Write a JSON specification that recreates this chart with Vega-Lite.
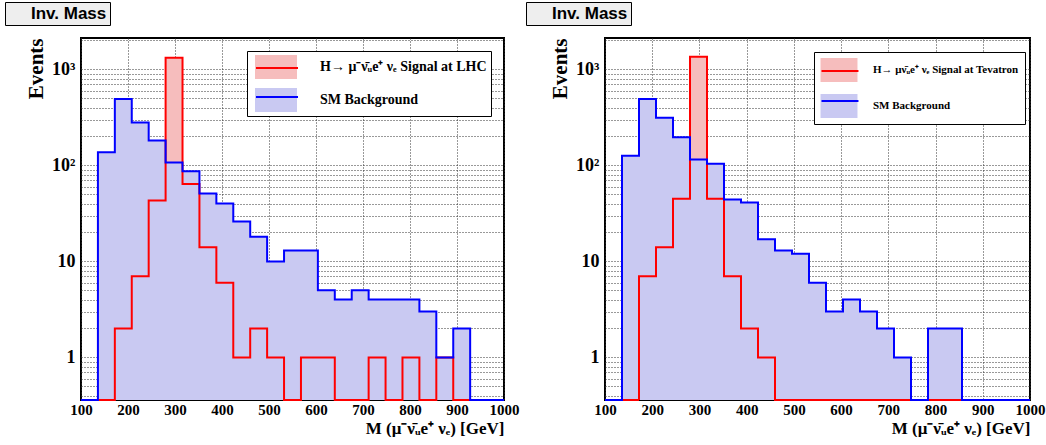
{
  "$schema": "https://vega.github.io/schema/vega-lite/v6.json",
  "padding": {"left": 3, "top": 0, "right": 0, "bottom": 0},
  "background": "#ffffff",
  "spacing": 4,
  "config": {
    "view": {"stroke": "#000000", "strokeWidth": 2},
    "axis": {
      "zindex": 1,
      "ticks": false,
      "domain": false,
      "grid": true,
      "gridDash": [1, 2],
      "gridColor": "#333333",
      "gridOpacity": 1,
      "gridWidth": 1,
      "labelColor": "#000000",
      "titleColor": "#000000",
      "labelFont": "Liberation Serif",
      "labelFontWeight": "bold",
      "titleFont": "Liberation Serif",
      "titleFontWeight": "bold",
      "labelOverlap": false
    }
  },
  "resolve": {
    "scale": {"fill": "independent", "stroke": "independent", "strokeDash": "independent", "x": "independent", "y": "independent"},
    "legend": {"fill": "independent", "stroke": "independent", "strokeDash": "independent"}
  },
  "hconcat": [
    {
      "width": 423,
      "height": 362,
      "data": {"values": [
        {"s": "bkg", "x": 100, "y": 0}, {"s": "bkg", "x": 136, "y": 137}, {"s": "bkg", "x": 172, "y": 491}, {"s": "bkg", "x": 208, "y": 280}, {"s": "bkg", "x": 244, "y": 181},
        {"s": "bkg", "x": 280, "y": 107}, {"s": "bkg", "x": 316, "y": 87}, {"s": "bkg", "x": 352, "y": 51}, {"s": "bkg", "x": 388, "y": 40}, {"s": "bkg", "x": 424, "y": 26},
        {"s": "bkg", "x": 460, "y": 18}, {"s": "bkg", "x": 496, "y": 10}, {"s": "bkg", "x": 532, "y": 13}, {"s": "bkg", "x": 568, "y": 13}, {"s": "bkg", "x": 604, "y": 5},
        {"s": "bkg", "x": 640, "y": 4}, {"s": "bkg", "x": 676, "y": 5}, {"s": "bkg", "x": 712, "y": 4}, {"s": "bkg", "x": 748, "y": 4}, {"s": "bkg", "x": 784, "y": 4},
        {"s": "bkg", "x": 820, "y": 3}, {"s": "bkg", "x": 856, "y": 1}, {"s": "bkg", "x": 892, "y": 2}, {"s": "bkg", "x": 928, "y": 0}, {"s": "bkg", "x": 964, "y": 0},
        {"s": "bkg", "x": 1000, "y": 0},
        {"s": "sig", "x": 100, "y": 0}, {"s": "sig", "x": 136, "y": 0}, {"s": "sig", "x": 172, "y": 2}, {"s": "sig", "x": 208, "y": 7}, {"s": "sig", "x": 244, "y": 43},
        {"s": "sig", "x": 280, "y": 1320}, {"s": "sig", "x": 316, "y": 64}, {"s": "sig", "x": 352, "y": 14}, {"s": "sig", "x": 388, "y": 6}, {"s": "sig", "x": 424, "y": 1},
        {"s": "sig", "x": 460, "y": 2}, {"s": "sig", "x": 496, "y": 1}, {"s": "sig", "x": 532, "y": 0}, {"s": "sig", "x": 568, "y": 1}, {"s": "sig", "x": 604, "y": 1},
        {"s": "sig", "x": 640, "y": 0}, {"s": "sig", "x": 676, "y": 0}, {"s": "sig", "x": 712, "y": 1}, {"s": "sig", "x": 748, "y": 0}, {"s": "sig", "x": 784, "y": 1},
        {"s": "sig", "x": 820, "y": 0}, {"s": "sig", "x": 856, "y": 1}, {"s": "sig", "x": 892, "y": 0}, {"s": "sig", "x": 928, "y": 0}, {"s": "sig", "x": 964, "y": 0},
        {"s": "sig", "x": 1000, "y": 0}
      ]},
      "encoding": {
        "x": {"field": "x", "type": "quantitative",
          "scale": {"domain": [100, 1000], "nice": false, "zero": false},
          "axis": {"title": "M (μ⁻ν̄ᵤe⁺ νₑ) [GeV]", "titleAnchor": "end", "titleFontSize": 17, "titlePadding": 3,
            "values": [100, 200, 300, 400, 500, 600, 700, 800, 900, 1000], "format": "d", "labelFlush": false,
            "labelFontSize": 15, "labelPadding": 2}},
        "y": {"field": "y", "type": "quantitative",
          "scale": {"type": "log", "domain": [0.36, 2120], "nice": false, "clamp": true},
          "axis": {"title": "Events", "titleAnchor": "end", "titleFontSize": 21, "titlePadding": 5,
            "values": [0.4, 0.5, 0.6, 0.7, 0.8, 0.9, 1, 2, 3, 4, 5, 6, 7, 8, 9, 10, 20, 30, 40, 50, 60, 70, 80, 90, 100, 200, 300, 400, 500, 600, 700, 800, 900, 1000, 2000],
            "labelExpr": "datum.value == 1 ? '1' : datum.value == 10 ? '10' : datum.value == 100 ? '10²' : datum.value == 1000 ? '10³' : ''",
            "labelFontSize": 18, "labelPadding": 6}}
      },
      "layer": [
        {
          "transform": [{"filter": "datum.s == 'sig'"}],
          "mark": {"type": "area", "interpolate": "step-after", "invalid": "show"},
          "encoding": {
            "fill": {"field": "s", "type": "nominal",
              "scale": {"domain": ["sig", "bkg"], "range": ["#f6bdbd", "#c9c9f2"]},
              "legend": {"orient": "none", "legendX": 166, "legendY": 13, "title": null, "padding": 4, "rowPadding": 9,
                "symbolType": "M-1.75,-1H1.75V1H-1.75Z", "symbolSize": 576, "symbolStrokeWidth": 0, "symbolOffset": 13, "labelOffset": 32,
                "labelFont": "Liberation Serif", "labelFontWeight": "bold", "labelFontSize": 14, "labelColor": "#000000", "labelLimit": 0,
                "fillColor": "#ffffff", "strokeColor": "#000000",
                "labelExpr": "datum.value == 'sig' ? 'H→ μ⁻ν̄ᵤe⁺ νₑ Signal at LHC' : 'SM Background'"}}
          }
        },
        {
          "transform": [{"filter": "datum.s == 'bkg'"}],
          "mark": {"type": "area", "interpolate": "step-after", "invalid": "show"},
          "encoding": {"fill": {"field": "s", "type": "nominal"}}
        },
        {
          "transform": [{"filter": "datum.s == 'sig'"}],
          "mark": {"type": "line", "interpolate": "step-after", "invalid": "show", "strokeWidth": 2},
          "encoding": {
            "stroke": {"field": "s", "type": "nominal",
              "scale": {"domain": ["sig", "bkg", "none"], "range": ["#ff0000", "#0000ff", "#000000"]},
              "legend": {"values": ["sig", "bkg"], "orient": "none", "legendX": 166, "legendY": 13, "title": null, "padding": 4, "rowPadding": 9,
                "symbolType": "M-1.75,0H1.75", "symbolSize": 576, "symbolStrokeWidth": 2, "symbolOffset": 13, "labelOffset": 32,
                "labelFont": "Liberation Serif", "labelFontWeight": "bold", "labelFontSize": 14,
                "labelExpr": "''"}},
            "strokeDash": {"datum": "Inv. Mass",
              "scale": {"domain": ["Inv. Mass"], "range": [[1, 0]]},
              "legend": {"orient": "none", "legendX": -76, "legendY": -36, "title": null, "padding": 3,
                "symbolSize": 1, "symbolOpacity": 0, "symbolStrokeWidth": 0, "labelOffset": 6, "labelLimit": 0,
                "labelFont": "Liberation Sans", "labelFontWeight": "bold", "labelFontSize": 17, "labelColor": "#000000",
                "fillColor": "#eeeeee", "strokeColor": "#000000"}}
          }
        },
        {
          "transform": [{"filter": "datum.s == 'bkg'"}],
          "mark": {"type": "line", "interpolate": "step-after", "invalid": "show", "strokeWidth": 2},
          "encoding": {"stroke": {"field": "s", "type": "nominal"}}
        }
      ]
    },
    {
      "width": 425,
      "height": 362,
      "data": {"values": [
        {"s": "bkg", "x": 100, "y": 0}, {"s": "bkg", "x": 136, "y": 126}, {"s": "bkg", "x": 172, "y": 491}, {"s": "bkg", "x": 208, "y": 314}, {"s": "bkg", "x": 244, "y": 196},
        {"s": "bkg", "x": 280, "y": 115}, {"s": "bkg", "x": 316, "y": 104}, {"s": "bkg", "x": 352, "y": 44}, {"s": "bkg", "x": 388, "y": 41}, {"s": "bkg", "x": 424, "y": 17},
        {"s": "bkg", "x": 460, "y": 13}, {"s": "bkg", "x": 496, "y": 12}, {"s": "bkg", "x": 532, "y": 6}, {"s": "bkg", "x": 568, "y": 3}, {"s": "bkg", "x": 604, "y": 4},
        {"s": "bkg", "x": 640, "y": 3}, {"s": "bkg", "x": 676, "y": 2}, {"s": "bkg", "x": 712, "y": 1}, {"s": "bkg", "x": 748, "y": 0}, {"s": "bkg", "x": 784, "y": 2},
        {"s": "bkg", "x": 820, "y": 2}, {"s": "bkg", "x": 856, "y": 0}, {"s": "bkg", "x": 892, "y": 0}, {"s": "bkg", "x": 928, "y": 0}, {"s": "bkg", "x": 964, "y": 0},
        {"s": "bkg", "x": 1000, "y": 0},
        {"s": "sig", "x": 100, "y": 0}, {"s": "sig", "x": 136, "y": 0}, {"s": "sig", "x": 172, "y": 7}, {"s": "sig", "x": 208, "y": 14}, {"s": "sig", "x": 244, "y": 45},
        {"s": "sig", "x": 280, "y": 1350}, {"s": "sig", "x": 316, "y": 45}, {"s": "sig", "x": 352, "y": 7}, {"s": "sig", "x": 388, "y": 2}, {"s": "sig", "x": 424, "y": 1},
        {"s": "sig", "x": 460, "y": 0}, {"s": "sig", "x": 496, "y": 0}, {"s": "sig", "x": 532, "y": 0}, {"s": "sig", "x": 568, "y": 0}, {"s": "sig", "x": 604, "y": 0},
        {"s": "sig", "x": 640, "y": 0}, {"s": "sig", "x": 676, "y": 0}, {"s": "sig", "x": 712, "y": 0}, {"s": "sig", "x": 748, "y": 0}, {"s": "sig", "x": 784, "y": 0},
        {"s": "sig", "x": 820, "y": 0}, {"s": "sig", "x": 856, "y": 0}, {"s": "sig", "x": 892, "y": 0}, {"s": "sig", "x": 928, "y": 0}, {"s": "sig", "x": 964, "y": 0},
        {"s": "sig", "x": 1000, "y": 0}
      ]},
      "encoding": {
        "x": {"field": "x", "type": "quantitative",
          "scale": {"domain": [100, 1000], "nice": false, "zero": false},
          "axis": {"title": "M (μ⁻ν̄ᵤe⁺ νₑ) [GeV]", "titleAnchor": "end", "titleFontSize": 17, "titlePadding": 3,
            "values": [100, 200, 300, 400, 500, 600, 700, 800, 900, 1000], "format": "d", "labelFlush": false,
            "labelFontSize": 15, "labelPadding": 2}},
        "y": {"field": "y", "type": "quantitative",
          "scale": {"type": "log", "domain": [0.36, 2120], "nice": false, "clamp": true},
          "axis": {"title": "Events", "titleAnchor": "end", "titleFontSize": 21, "titlePadding": 5,
            "values": [0.4, 0.5, 0.6, 0.7, 0.8, 0.9, 1, 2, 3, 4, 5, 6, 7, 8, 9, 10, 20, 30, 40, 50, 60, 70, 80, 90, 100, 200, 300, 400, 500, 600, 700, 800, 900, 1000, 2000],
            "labelExpr": "datum.value == 1 ? '1' : datum.value == 10 ? '10' : datum.value == 100 ? '10²' : datum.value == 1000 ? '10³' : ''",
            "labelFontSize": 18, "labelPadding": 6}}
      },
      "layer": [
        {
          "transform": [{"filter": "datum.s == 'sig'"}],
          "mark": {"type": "area", "interpolate": "step-after", "invalid": "show"},
          "encoding": {
            "fill": {"field": "s", "type": "nominal",
              "scale": {"domain": ["sig", "bkg"], "range": ["#f6bdbd", "#c9c9f2"]},
              "legend": {"orient": "none", "legendX": 209, "legendY": 14, "title": null, "padding": 6, "rowPadding": 12,
                "symbolType": "M-1.54,-1H1.54V1H-1.54Z", "symbolSize": 576, "symbolStrokeWidth": 0, "symbolOffset": 7, "labelOffset": 22,
                "labelFont": "Liberation Serif", "labelFontWeight": "bold", "labelFontSize": 11, "labelColor": "#000000", "labelLimit": 0,
                "fillColor": "#ffffff", "strokeColor": "#000000",
                "labelExpr": "datum.value == 'sig' ? 'H→ μν̄ᵤe⁺ νₑ Signal at Tevatron' : 'SM Background'"}}
          }
        },
        {
          "transform": [{"filter": "datum.s == 'bkg'"}],
          "mark": {"type": "area", "interpolate": "step-after", "invalid": "show"},
          "encoding": {"fill": {"field": "s", "type": "nominal"}}
        },
        {
          "transform": [{"filter": "datum.s == 'sig'"}],
          "mark": {"type": "line", "interpolate": "step-after", "invalid": "show", "strokeWidth": 2},
          "encoding": {
            "stroke": {"field": "s", "type": "nominal",
              "scale": {"domain": ["sig", "bkg", "none"], "range": ["#ff0000", "#0000ff", "#000000"]},
              "legend": {"values": ["sig", "bkg"], "orient": "none", "legendX": 209, "legendY": 14, "title": null, "padding": 6, "rowPadding": 12,
                "symbolType": "M-1.54,0H1.54", "symbolSize": 576, "symbolStrokeWidth": 2, "symbolOffset": 7, "labelOffset": 22,
                "labelFont": "Liberation Serif", "labelFontWeight": "bold", "labelFontSize": 11,
                "labelExpr": "''"}},
            "strokeDash": {"datum": "Inv. Mass",
              "scale": {"domain": ["Inv. Mass"], "range": [[1, 0]]},
              "legend": {"orient": "none", "legendX": -79, "legendY": -36, "title": null, "padding": 3,
                "symbolSize": 1, "symbolOpacity": 0, "symbolStrokeWidth": 0, "labelOffset": 6, "labelLimit": 0,
                "labelFont": "Liberation Sans", "labelFontWeight": "bold", "labelFontSize": 17, "labelColor": "#000000",
                "fillColor": "#eeeeee", "strokeColor": "#000000"}}
          }
        },
        {
          "transform": [{"filter": "datum.s == 'bkg'"}],
          "mark": {"type": "line", "interpolate": "step-after", "invalid": "show", "strokeWidth": 2},
          "encoding": {"stroke": {"field": "s", "type": "nominal"}}
        }
      ]
    }
  ]
}
